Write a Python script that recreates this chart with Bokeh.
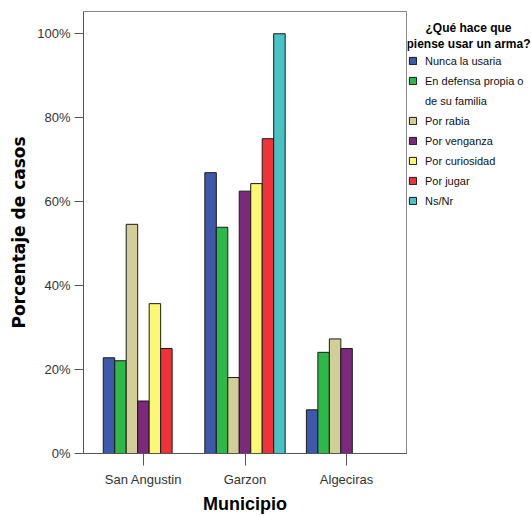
from bokeh.plotting import figure
from bokeh.layouts import row
from bokeh.models import (ColumnDataSource, FactorRange, Range1d, FixedTicker,
                          PrintfTickFormatter, Legend, LegendItem, Label)
from bokeh.transform import dodge
from bokeh.embed import file_html
from bokeh.resources import INLINE

municipios = ["San Angustin", "Garzon", "Algeciras"]
respuestas = ["Nunca la usaria", "En defensa propia o", "de su familia", "Por rabia",
              "Por venganza", "Por curiosidad", "Por jugar", "Ns/Nr"]
titulo = ["¿Qué hace que", "piense usar un arma?"]
nunca = [22.8, 66.9, 10.4]
defensa = [22.1, 53.9, 24.1]
rabia = [54.6, 18.1, 27.3]
venganza = [12.5, 62.5, 25.0]
curiosidad = [35.7, 64.3, 0.0]
jugar = [25.0, 75.0, 0.0]
nsnr = [0.0, 100.0, 0.0]
colores = ["#3E58AC", "#2EB848", "#D3CE97", "#7B287D", "#FBF873", "#EF3338", "#48C2C5"]
y_ticks = [0, 20, 40, 60, 80, 100]

series = [nunca, defensa, rabia, venganza, curiosidad, jugar, nsnr]
keys = ["nunca", "defensa", "rabia", "venganza", "curiosidad", "jugar", "nsnr"]
data = {"municipio": municipios}
for k, s in zip(keys, series):
    data[k] = s
source = ColumnDataSource(data)

FONT = "Liberation Sans"
H = 517
TOP, BOTTOM = 11, 64

p = figure(width=407, height=H, output_backend="svg", toolbar_location=None,
           x_range=FactorRange(factors=municipios, range_padding=0.09,
                               range_padding_units="absolute"),
           y_range=Range1d(0, 105.3),
           min_border_left=83, min_border_right=1, min_border_top=TOP,
           min_border_bottom=BOTTOM)

bw = 0.113
for i, (k, c) in enumerate(zip(keys, colores)):
    p.vbar(x=dodge("municipio", (i - 3) * bw, range=p.x_range), top=k,
           width=bw, source=source, fill_color=c, line_color="#1a1a1a",
           line_width=1)

p.xgrid.visible = False
p.ygrid.visible = False
p.outline_line_color = "#888888"
p.background_fill_color = "white"

ax = p.xaxis[0]
ax.axis_label = "Municipio"
ax.axis_label_text_font = FONT
ax.axis_label_text_font_style = "bold"
ax.axis_label_text_font_size = "18px"
ax.axis_label_text_color = "black"
ax.axis_label_standoff = 4
ax.major_label_text_font = FONT
ax.major_label_text_font_size = "13px"
ax.major_label_text_color = "#333333"
ax.major_label_standoff = 6
ax.major_tick_out = 12
ax.major_tick_in = 0
ax.minor_tick_out = 0
ax.axis_line_color = "#555555"
ax.major_tick_line_color = "#555555"

ay = p.yaxis[0]
ay.axis_label = "Porcentaje de casos"
ay.axis_label_text_font = "DejaVu Sans"
ay.axis_label_text_font_style = "bold"
ay.axis_label_text_font_size = "17px"
ay.axis_label_text_color = "black"
ay.axis_label_standoff = 5
ay.ticker = FixedTicker(ticks=y_ticks)
ay.formatter = PrintfTickFormatter(format="%d%%")
ay.major_label_text_font = FONT
ay.major_label_text_font_size = "13px"
ay.major_label_text_color = "#333333"
ay.major_label_standoff = 4
ay.major_tick_out = 9
ay.major_tick_in = 0
ay.minor_tick_out = 0
ay.minor_tick_in = 0
ay.axis_line_color = "#555555"
ay.major_tick_line_color = "#555555"

# legend panel: hidden renderers only supply the swatch styles
pl = figure(width=124, height=H, output_backend="svg", toolbar_location=None,
            x_axis_type=None, y_axis_type=None,
            x_range=FactorRange(factors=municipios), y_range=Range1d(0, 105.3),
            min_border_left=0, min_border_right=0, min_border_top=TOP,
            min_border_bottom=BOTTOM)
pl.outline_line_color = None
pl.xgrid.visible = False
pl.ygrid.visible = False
swatches = []
for i, (k, c) in enumerate(zip(keys, colores)):
    swatches.append(pl.vbar(x=dodge("municipio", (i - 3) * bw, range=pl.x_range),
                            top=k, width=bw, source=source, fill_color=c,
                            line_color="#1a1a1a", line_width=1, visible=False))
blank = pl.vbar(x="municipio", top="defensa", width=bw, source=source,
                fill_alpha=0, line_alpha=0, visible=False)
renderer_list = [swatches[0], swatches[1], blank] + swatches[2:]
items = [LegendItem(label=lab, renderers=[r]) for lab, r in zip(respuestas, renderer_list)]
legend = Legend(items=items, location=(0, 243),
                label_text_font=FONT, label_text_font_size="11px",
                label_text_color="#111111",
                glyph_width=9, glyph_height=9, label_height=17,
                label_standoff=8, spacing=3, padding=1, margin=0,
                inactive_fill_alpha=0,
                border_line_alpha=0, background_fill_alpha=0)
pl.add_layout(legend, "center")

for txt, yy in zip(titulo, [426, 410]):
    pl.add_layout(Label(x=61, y=yy, x_units="screen", y_units="screen", text=txt,
                        text_align="center", text_baseline="middle",
                        text_font=FONT, text_font_style="bold",
                        text_font_size="12px", text_color="black"))

layout = row(p, pl)
open("out.html", "w").write(file_html(layout, INLINE))
